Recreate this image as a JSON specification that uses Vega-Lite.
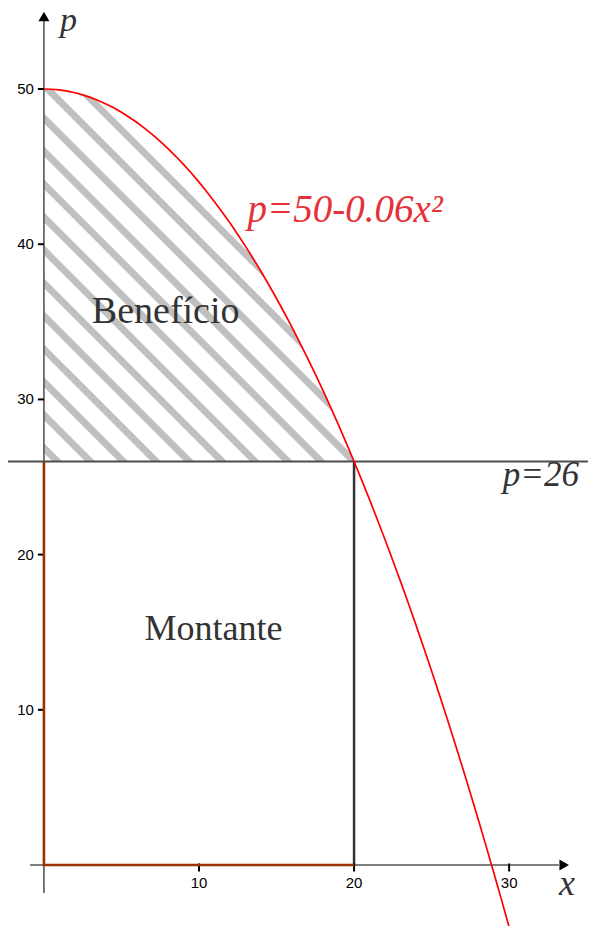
{
  "$schema": "https://vega.github.io/schema/vega-lite/v6.json",
  "width": 589,
  "height": 926,
  "autosize": {"type": "fit", "contains": "padding"},
  "padding": 0,
  "background": "white",
  "config": {"view": {"stroke": null}},
  "data": {"values": [{}]},
  "datasets": {
    "curve": [
      {"x": 0, "p": 50}, {"x": 0.5, "p": 49.985}, {"x": 1, "p": 49.94}, {"x": 1.5, "p": 49.865},
      {"x": 2, "p": 49.76}, {"x": 2.5, "p": 49.625}, {"x": 3, "p": 49.46}, {"x": 3.5, "p": 49.265},
      {"x": 4, "p": 49.04}, {"x": 4.5, "p": 48.785}, {"x": 5, "p": 48.5}, {"x": 5.5, "p": 48.185},
      {"x": 6, "p": 47.84}, {"x": 6.5, "p": 47.465}, {"x": 7, "p": 47.06}, {"x": 7.5, "p": 46.625},
      {"x": 8, "p": 46.16}, {"x": 8.5, "p": 45.665}, {"x": 9, "p": 45.14}, {"x": 9.5, "p": 44.585},
      {"x": 10, "p": 44}, {"x": 10.5, "p": 43.385}, {"x": 11, "p": 42.74}, {"x": 11.5, "p": 42.065},
      {"x": 12, "p": 41.36}, {"x": 12.5, "p": 40.625}, {"x": 13, "p": 39.86}, {"x": 13.5, "p": 39.065},
      {"x": 14, "p": 38.24}, {"x": 14.5, "p": 37.385}, {"x": 15, "p": 36.5}, {"x": 15.5, "p": 35.585},
      {"x": 16, "p": 34.64}, {"x": 16.5, "p": 33.665}, {"x": 17, "p": 32.66}, {"x": 17.5, "p": 31.625},
      {"x": 18, "p": 30.56}, {"x": 18.5, "p": 29.465}, {"x": 19, "p": 28.34}, {"x": 19.5, "p": 27.185},
      {"x": 20, "p": 26}, {"x": 20.5, "p": 24.785}, {"x": 21, "p": 23.54}, {"x": 21.5, "p": 22.265},
      {"x": 22, "p": 20.96}, {"x": 22.5, "p": 19.625}, {"x": 23, "p": 18.26}, {"x": 23.5, "p": 16.865},
      {"x": 24, "p": 15.44}, {"x": 24.5, "p": 13.985}, {"x": 25, "p": 12.5}, {"x": 25.5, "p": 10.985},
      {"x": 26, "p": 9.44}, {"x": 26.5, "p": 7.865}, {"x": 27, "p": 6.26}, {"x": 27.5, "p": 4.625},
      {"x": 28, "p": 2.96}, {"x": 28.5, "p": 1.265}, {"x": 29, "p": -0.46}, {"x": 29.5, "p": -2.215},
      {"x": 30, "p": -4}
    ],
    "stripes": [
      {"x": -1, "p": 27.87, "x2": 1.87, "p2": 25},
      {"x": -1, "p": 29.99, "x2": 3.99, "p2": 25},
      {"x": -1, "p": 32.12, "x2": 6.12, "p2": 25},
      {"x": -1, "p": 34.24, "x2": 8.24, "p2": 25},
      {"x": -1, "p": 36.37, "x2": 10.37, "p2": 25},
      {"x": -1, "p": 38.49, "x2": 12.49, "p2": 25},
      {"x": -1, "p": 40.62, "x2": 14.62, "p2": 25},
      {"x": -1, "p": 42.74, "x2": 16.74, "p2": 25},
      {"x": -1, "p": 44.87, "x2": 18.87, "p2": 25},
      {"x": -1, "p": 46.99, "x2": 20.99, "p2": 25},
      {"x": -1, "p": 49.12, "x2": 23.12, "p2": 25},
      {"x": -1, "p": 51.24, "x2": 25.24, "p2": 25},
      {"x": -1, "p": 53.36, "x2": 27.36, "p2": 25}
    ],
    "montante": [
      {"x": 0, "p": 26, "o": 1},
      {"x": 0, "p": 0, "o": 2},
      {"x": 20, "p": 0, "o": 3}
    ],
    "yticks": [
      {"p": 10, "label": "10"}, {"p": 20, "label": "20"}, {"p": 30, "label": "30"},
      {"p": 40, "label": "40"}, {"p": 50, "label": "50"}
    ],
    "xticks": [
      {"x": 10, "label": "10"}, {"x": 20, "label": "20"}, {"x": 30, "label": "30"}
    ]
  },
  "layer": [
    {
      "data": {"name": "stripes"},
      "mark": {"type": "rule", "stroke": "#c0c0c0", "strokeWidth": 7, "strokeCap": "butt", "clip": true},
      "encoding": {
        "x": {
          "field": "x", "type": "quantitative",
          "scale": {"domain": [-2.833, 35.086], "nice": false, "zero": false},
          "axis": null
        },
        "y": {
          "field": "p", "type": "quantitative",
          "scale": {"domain": [-3.93, 55.735], "nice": false, "zero": false},
          "axis": null
        },
        "x2": {"field": "x2"},
        "y2": {"field": "p2"}
      }
    },
    {
      "data": {"name": "curve"},
      "mark": {"type": "area", "color": "white", "opacity": 1, "clip": true},
      "encoding": {
        "x": {"field": "x", "type": "quantitative", "axis": null},
        "y": {"field": "p", "type": "quantitative", "axis": null},
        "y2": {"datum": 56}
      }
    },
    {
      "mark": {"type": "rect", "color": "white", "clip": true},
      "encoding": {
        "x": {"datum": -3, "type": "quantitative", "axis": null},
        "x2": {"datum": 36},
        "y": {"datum": -4, "type": "quantitative", "axis": null},
        "y2": {"datum": 26}
      }
    },
    {
      "mark": {"type": "rect", "color": "white", "clip": true},
      "encoding": {
        "x": {"datum": -3, "type": "quantitative", "axis": null},
        "x2": {"datum": 0},
        "y": {"datum": 26, "type": "quantitative", "axis": null},
        "y2": {"datum": 56}
      }
    },
    {
      "mark": {"type": "rule", "stroke": "#4d4d4d", "strokeWidth": 2},
      "encoding": {
        "x": {"datum": -2.32, "type": "quantitative", "axis": null},
        "x2": {"datum": 35.08},
        "y": {"datum": 26, "type": "quantitative", "axis": null}
      }
    },
    {
      "mark": {"type": "rule", "stroke": "#333333", "strokeWidth": 2.5},
      "encoding": {
        "x": {"datum": 20, "type": "quantitative", "axis": null},
        "y": {"datum": 0, "type": "quantitative", "axis": null},
        "y2": {"datum": 26}
      }
    },
    {
      "mark": {"type": "rule", "stroke": "#555555", "strokeWidth": 1.6},
      "encoding": {
        "x": {"datum": 0, "type": "quantitative", "axis": null},
        "y": {"datum": -1.8, "type": "quantitative", "axis": null},
        "y2": {"datum": 54.4}
      }
    },
    {
      "mark": {"type": "rule", "stroke": "#555555", "strokeWidth": 1.6},
      "encoding": {
        "x": {"datum": -0.9, "type": "quantitative", "axis": null},
        "x2": {"datum": 33.2},
        "y": {"datum": 0, "type": "quantitative", "axis": null}
      }
    },
    {
      "data": {"name": "yticks"},
      "mark": {"type": "rule", "stroke": "#000000", "strokeWidth": 2},
      "encoding": {
        "x": {"datum": -0.39, "type": "quantitative", "axis": null},
        "x2": {"datum": 0},
        "y": {"field": "p", "type": "quantitative", "axis": null}
      }
    },
    {
      "data": {"name": "yticks"},
      "mark": {"type": "text", "font": "Liberation Sans", "fontSize": 15, "color": "#000000", "align": "right", "baseline": "middle", "dx": -4},
      "encoding": {
        "x": {"datum": -0.39, "type": "quantitative", "axis": null},
        "y": {"field": "p", "type": "quantitative", "axis": null},
        "text": {"field": "label"}
      }
    },
    {
      "data": {"name": "xticks"},
      "mark": {"type": "rule", "stroke": "#000000", "strokeWidth": 2},
      "encoding": {
        "x": {"field": "x", "type": "quantitative", "axis": null},
        "y": {"datum": -0.42, "type": "quantitative", "axis": null},
        "y2": {"datum": 0.1}
      }
    },
    {
      "data": {"name": "xticks"},
      "mark": {"type": "text", "font": "Liberation Sans", "fontSize": 15, "color": "#000000", "align": "center", "baseline": "top", "dy": 4},
      "encoding": {
        "x": {"field": "x", "type": "quantitative", "axis": null},
        "y": {"datum": -0.42, "type": "quantitative", "axis": null},
        "text": {"field": "label"}
      }
    },
    {
      "data": {"name": "montante"},
      "mark": {"type": "line", "stroke": "#993300", "strokeWidth": 2.6, "strokeJoin": "miter"},
      "encoding": {
        "x": {"field": "x", "type": "quantitative", "axis": null},
        "y": {"field": "p", "type": "quantitative", "axis": null},
        "order": {"field": "o", "type": "quantitative"}
      }
    },
    {
      "data": {"name": "curve"},
      "mark": {"type": "line", "stroke": "#ff0000", "strokeWidth": 1.7, "clip": true},
      "encoding": {
        "x": {"field": "x", "type": "quantitative", "axis": null},
        "y": {"field": "p", "type": "quantitative", "axis": null}
      }
    },
    {
      "mark": {"type": "point", "shape": "triangle-up", "size": 121, "filled": true, "color": "#000", "opacity": 1},
      "encoding": {
        "x": {"datum": 0, "type": "quantitative", "axis": null},
        "y": {"datum": 54.67, "type": "quantitative", "axis": null}
      }
    },
    {
      "mark": {"type": "point", "shape": "triangle-right", "size": 121, "filled": true, "color": "#000", "opacity": 1},
      "encoding": {
        "x": {"datum": 33.55, "type": "quantitative", "axis": null},
        "y": {"datum": 0, "type": "quantitative", "axis": null}
      }
    },
    {
      "mark": {"type": "text", "text": "Benefício", "font": "Liberation Serif", "fontSize": 38, "color": "#333333", "align": "center", "baseline": "alphabetic"},
      "encoding": {
        "x": {"datum": 7.85, "type": "quantitative", "axis": null},
        "y": {"datum": 34.9, "type": "quantitative", "axis": null}
      }
    },
    {
      "mark": {"type": "text", "text": "Montante", "font": "Liberation Serif", "fontSize": 36, "color": "#333333", "align": "center", "baseline": "alphabetic"},
      "encoding": {
        "x": {"datum": 10.94, "type": "quantitative", "axis": null},
        "y": {"datum": 14.5, "type": "quantitative", "axis": null}
      }
    },
    {
      "mark": {"type": "text", "text": "p=50-0.06x²", "font": "Liberation Serif", "fontStyle": "italic", "fontSize": 39, "color": "#e53238", "align": "left", "baseline": "alphabetic"},
      "encoding": {
        "x": {"datum": 13.13, "type": "quantitative", "axis": null},
        "y": {"datum": 41.4, "type": "quantitative", "axis": null}
      }
    },
    {
      "mark": {"type": "text", "text": "p=26", "font": "Liberation Serif", "fontStyle": "italic", "fontSize": 35, "color": "#333333", "align": "right", "baseline": "alphabetic"},
      "encoding": {
        "x": {"datum": 34.5, "type": "quantitative", "axis": null},
        "y": {"datum": 24.4, "type": "quantitative", "axis": null}
      }
    },
    {
      "mark": {"type": "text", "text": "p", "font": "Liberation Serif", "fontStyle": "italic", "fontSize": 34, "color": "#333333", "align": "left", "baseline": "alphabetic"},
      "encoding": {
        "x": {"datum": 1.03, "type": "quantitative", "axis": null},
        "y": {"datum": 53.74, "type": "quantitative", "axis": null}
      }
    },
    {
      "mark": {"type": "text", "text": "x", "font": "Liberation Serif", "fontStyle": "italic", "fontSize": 36, "color": "#333333", "align": "left", "baseline": "alphabetic"},
      "encoding": {
        "x": {"datum": 33.22, "type": "quantitative", "axis": null},
        "y": {"datum": -1.93, "type": "quantitative", "axis": null}
      }
    }
  ]
}
